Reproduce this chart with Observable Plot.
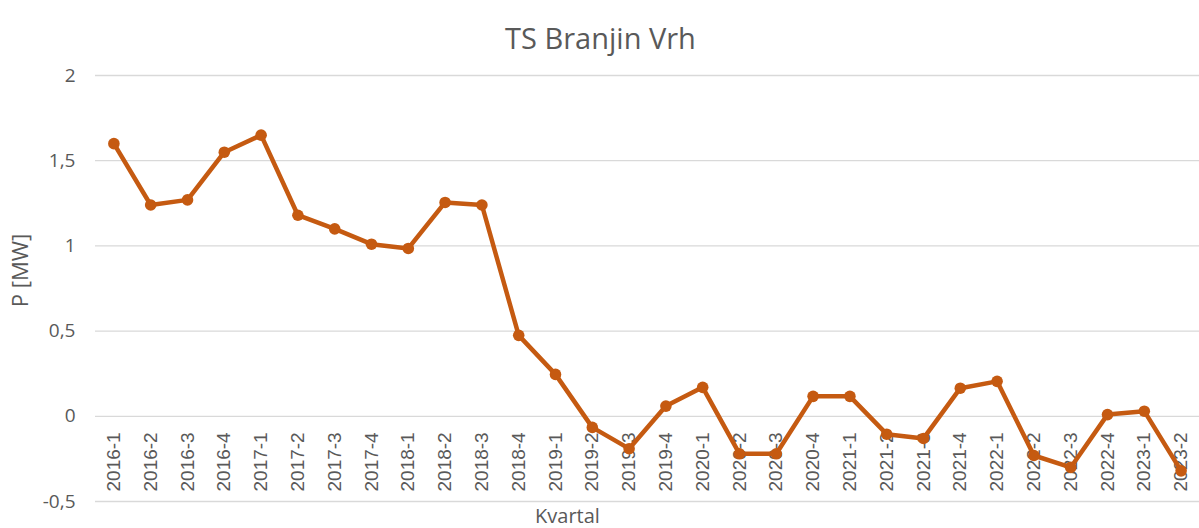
<!DOCTYPE html>
<html>
<head>
<meta charset="utf-8">
<script src="https://cdn.jsdelivr.net/npm/d3@7"></script>
<script src="https://cdn.jsdelivr.net/npm/@observablehq/plot@0.6"></script>
<style>
  html, body { margin: 0; padding: 0; background: #fff; }
  #chart svg { display: block; }
</style>
</head>
<body>
<div id="chart"></div>
<script>
const quarters = ["2016-1","2016-2","2016-3","2016-4","2017-1","2017-2","2017-3","2017-4",
  "2018-1","2018-2","2018-3","2018-4","2019-1","2019-2","2019-3","2019-4",
  "2020-1","2020-2","2020-3","2020-4","2021-1","2021-2","2021-3","2021-4",
  "2022-1","2022-2","2022-3","2022-4","2023-1","2023-2"];
const power = [1.60,1.24,1.27,1.55,1.65,1.18,1.10,1.01,
  0.985,1.255,1.24,0.475,0.246,-0.065,-0.19,0.06,
  0.17,-0.22,-0.22,0.117,0.117,-0.105,-0.13,0.165,
  0.205,-0.23,-0.30,0.01,0.03,-0.32];
const yTicks = [-0.5, 0, 0.5, 1, 1.5, 2];
const titleText = "TS Branjin Vrh";
const yLabel = "P [MW]";
const xLabel = "Kvartal";

const data = quarters.map((q, i) => ({q, p: power[i]}));
const fmt = d => String(d).replace(".", ",");
const grey = "#595959";
const orange = "#c55a11";

const chart = Plot.plot({
  width: 1199,
  height: 528,
  marginLeft: 95,
  marginRight: 0,
  marginTop: 75,
  marginBottom: 27,
  style: {fontFamily: "'Open Sans', sans-serif", background: "#fff"},
  x: {type: "point", domain: quarters, padding: 0.5, round: false, axis: null},
  y: {domain: [-0.5, 2], ticks: yTicks, axis: null},
  marks: [
    Plot.ruleY(yTicks, {stroke: "#d9d9d9", strokeWidth: 1.3}),
    Plot.axisY(yTicks, {tickSize: 0, tickPadding: 20, tickFormat: fmt, fontSize: 19, fill: grey, label: null}),
    Plot.text(quarters, {x: d => d, y: 0, rotate: -90, textAnchor: "end", lineAnchor: "middle",
      dy: 16, fontSize: 19, fill: grey, fontFamily: "'Liberation Sans', Arial, sans-serif"}),
    Plot.line(data, {x: "q", y: "p", stroke: orange, strokeWidth: 4.5, strokeLinejoin: "round"}),
    Plot.dot(data, {x: "q", y: "p", r: 5.8, fill: orange, stroke: "none"}),
    Plot.text([titleText], {frameAnchor: "top", text: d => d, dy: -47, dx: -47, fontSize: 29, fill: grey}),
    Plot.text([yLabel], {frameAnchor: "left", text: d => d, dx: -75, dy: -18, rotate: -90,
      textAnchor: "middle", fontSize: 22, fill: grey}),
    Plot.text([xLabel], {frameAnchor: "bottom", text: d => d, dx: -80, dy: 21, fontSize: 20, fill: grey})
  ]
});
document.getElementById("chart").appendChild(chart);
</script>
</body>
</html>
